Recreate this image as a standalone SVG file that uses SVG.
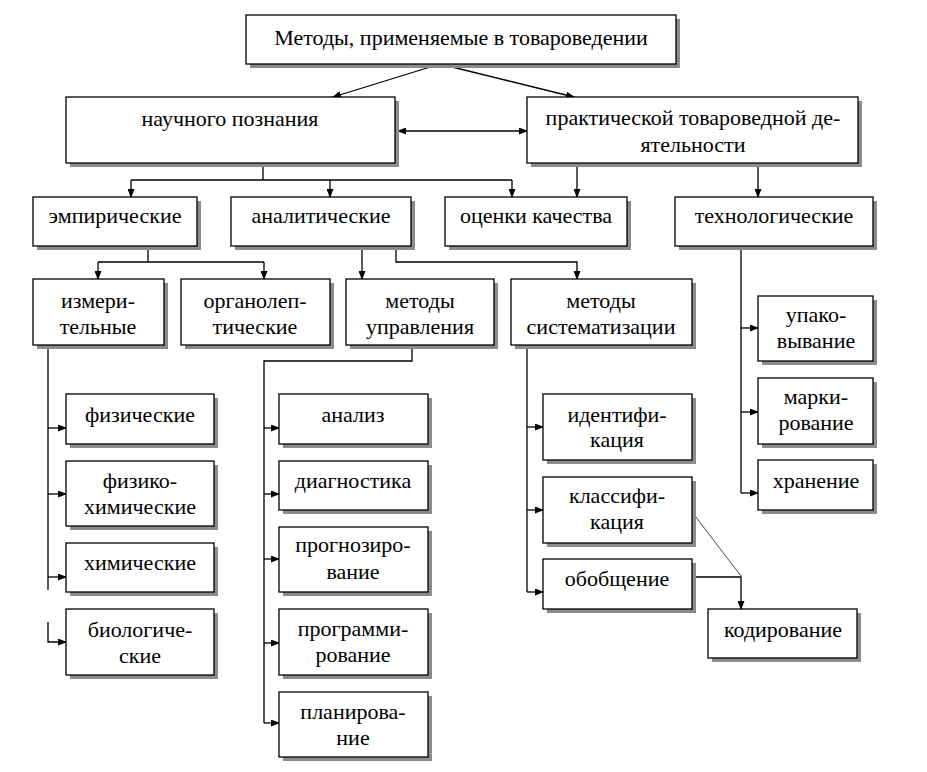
<svg xmlns="http://www.w3.org/2000/svg" width="927" height="772" viewBox="0 0 927 772">
<style>
.box{fill:#fff;stroke:#000;stroke-width:1.3}
.sh{fill:#8c8c8c}
.ln{fill:none;stroke:#000;stroke-width:1.3}
.thin{fill:none;stroke:#333;stroke-width:0.9}
</style>
<defs>
<marker id="ah" markerWidth="9" markerHeight="7" refX="8" refY="3.5" orient="auto" markerUnits="userSpaceOnUse">
<path d="M0,0 L9,3.5 L0,7 Z" fill="#000"/>
</marker>
<marker id="ahs" markerWidth="9" markerHeight="7" refX="1" refY="3.5" orient="auto" markerUnits="userSpaceOnUse">
<path d="M9,0 L0,3.5 L9,7 Z" fill="#000"/>
</marker>
</defs>
<rect width="927" height="772" fill="#fff"/>

<g id="connectors">
<path class="ln" d="M440,64 L333,97" marker-end="url(#ah)"/>
<path class="ln" d="M440,64 L574,97" marker-end="url(#ah)"/>
<path class="ln" d="M398,131 L527,131" marker-start="url(#ahs)" marker-end="url(#ah)"/>
<path class="ln" d="M263,163 V180 M131,180 H512"/>
<path class="ln" d="M131,180 V197" marker-end="url(#ah)"/>
<path class="ln" d="M330,180 V197" marker-end="url(#ah)"/>
<path class="ln" d="M512,180 V197" marker-end="url(#ah)"/>
<path class="ln" d="M577,163 V197" marker-end="url(#ah)"/>
<path class="ln" d="M758,163 V197" marker-end="url(#ah)"/>
<path class="ln" d="M148,246 V262 M98,262 H264"/>
<path class="ln" d="M98,262 V279" marker-end="url(#ah)"/>
<path class="ln" d="M264,262 V279" marker-end="url(#ah)"/>
<path class="ln" d="M362,246 V279" marker-end="url(#ah)"/>
<path class="ln" d="M396,246 V262 H577 V279" marker-end="url(#ah)"/>
<path class="ln" d="M48,345 V590"/>
<path class="ln" d="M48,428 H66" marker-end="url(#ah)"/>
<path class="ln" d="M48,494 H66" marker-end="url(#ah)"/>
<path class="ln" d="M48,577 H66" marker-end="url(#ah)"/>
<path class="ln" d="M48,622 V642 H66" marker-end="url(#ah)"/>
<path class="ln" d="M412,345 V361 H264 V723"/>
<path class="ln" d="M264,428 H279" marker-end="url(#ah)"/>
<path class="ln" d="M264,494 H279" marker-end="url(#ah)"/>
<path class="ln" d="M264,559 H279" marker-end="url(#ah)"/>
<path class="ln" d="M264,643 H279" marker-end="url(#ah)"/>
<path class="ln" d="M264,723 H279" marker-end="url(#ah)"/>
<path class="ln" d="M527,345 V592"/>
<path class="ln" d="M527,427 H543" marker-end="url(#ah)"/>
<path class="ln" d="M527,510 H543" marker-end="url(#ah)"/>
<path class="ln" d="M527,592 H543" marker-end="url(#ah)"/>
<path class="thin" d="M692,512 L741,576"/>
<path class="ln" d="M692,577 H741 V609" marker-end="url(#ah)"/>
<path class="ln" d="M741,246 V493"/>
<path class="ln" d="M741,328 H758" marker-end="url(#ah)"/>
<path class="ln" d="M741,412 H758" marker-end="url(#ah)"/>
<path class="ln" d="M741,493 H758" marker-end="url(#ah)"/>
</g>

<g font-family="Liberation Serif, Times New Roman, serif" font-size="22" text-anchor="middle" fill="#000">
<g id="n-title"><rect class="sh" x="250" y="19" width="430" height="49"/><rect class="box" x="246" y="15" width="430" height="49"/><text x="461" y="45">Методы, применяемые в товароведении</text></g>
<g id="n-nauch"><rect class="sh" x="70" y="101" width="329" height="66"/><rect class="box" x="66" y="97" width="329" height="66"/><text x="230" y="126">научного познания</text></g>
<g id="n-prakt"><rect class="sh" x="531" y="101" width="331" height="66"/><rect class="box" x="527" y="97" width="331" height="66"/><text x="693" y="125">практической товароведной де-</text><text x="693" y="152">ятельности</text></g>
<g id="n-empir"><rect class="sh" x="37" y="201" width="164" height="49"/><rect class="box" x="33" y="197" width="164" height="49"/><text x="115" y="223">эмпирические</text></g>
<g id="n-analit"><rect class="sh" x="235" y="201" width="180" height="49"/><rect class="box" x="231" y="197" width="180" height="49"/><text x="321" y="223">аналитические</text></g>
<g id="n-ocenki"><rect class="sh" x="449" y="201" width="182" height="49"/><rect class="box" x="445" y="197" width="182" height="49"/><text x="536" y="223">оценки качества</text></g>
<g id="n-tech"><rect class="sh" x="679" y="201" width="198" height="49"/><rect class="box" x="675" y="197" width="198" height="49"/><text x="774" y="223">технологические</text></g>
<g id="n-izmer"><rect class="sh" x="37" y="283" width="131" height="66"/><rect class="box" x="33" y="279" width="131" height="66"/><text x="98" y="308">измери-</text><text x="98" y="334">тельные</text></g>
<g id="n-organ"><rect class="sh" x="185" y="283" width="149" height="66"/><rect class="box" x="181" y="279" width="149" height="66"/><text x="255" y="308">органолеп-</text><text x="255" y="334">тические</text></g>
<g id="n-upr"><rect class="sh" x="350" y="283" width="148" height="66"/><rect class="box" x="346" y="279" width="148" height="66"/><text x="420" y="308">методы</text><text x="420" y="334">управления</text></g>
<g id="n-sist"><rect class="sh" x="515" y="283" width="181" height="66"/><rect class="box" x="511" y="279" width="181" height="66"/><text x="601" y="308">методы</text><text x="601" y="334">систематизации</text></g>
<g id="n-fiz"><rect class="sh" x="70" y="398" width="148" height="50"/><rect class="box" x="66" y="394" width="148" height="50"/><text x="140" y="422">физические</text></g>
<g id="n-fizkhim"><rect class="sh" x="70" y="465" width="148" height="65"/><rect class="box" x="66" y="461" width="148" height="65"/><text x="140" y="488">физико-</text><text x="140" y="514">химические</text></g>
<g id="n-khim"><rect class="sh" x="70" y="547" width="148" height="49"/><rect class="box" x="66" y="543" width="148" height="49"/><text x="140" y="570">химические</text></g>
<g id="n-bio"><rect class="sh" x="70" y="613" width="148" height="66"/><rect class="box" x="66" y="609" width="148" height="66"/><text x="140" y="637">биологиче-</text><text x="140" y="663">ские</text></g>
<g id="n-analiz"><rect class="sh" x="283" y="398" width="149" height="50"/><rect class="box" x="279" y="394" width="149" height="50"/><text x="353" y="422">анализ</text></g>
<g id="n-diag"><rect class="sh" x="283" y="465" width="149" height="49"/><rect class="box" x="279" y="461" width="149" height="49"/><text x="353" y="488">диагностика</text></g>
<g id="n-prognoz"><rect class="sh" x="283" y="531" width="149" height="65"/><rect class="box" x="279" y="527" width="149" height="65"/><text x="353" y="552">прогнозиро-</text><text x="353" y="579">вание</text></g>
<g id="n-program"><rect class="sh" x="283" y="613" width="149" height="66"/><rect class="box" x="279" y="609" width="149" height="66"/><text x="353" y="636">программи-</text><text x="353" y="662">рование</text></g>
<g id="n-plan"><rect class="sh" x="283" y="696" width="149" height="65"/><rect class="box" x="279" y="692" width="149" height="65"/><text x="353" y="719">планирова-</text><text x="353" y="745">ние</text></g>
<g id="n-ident"><rect class="sh" x="547" y="398" width="149" height="66"/><rect class="box" x="543" y="394" width="149" height="66"/><text x="617" y="422">идентифи-</text><text x="617" y="447">кация</text></g>
<g id="n-klass"><rect class="sh" x="547" y="481" width="149" height="66"/><rect class="box" x="543" y="477" width="149" height="66"/><text x="617" y="503">классифи-</text><text x="617" y="529">кация</text></g>
<g id="n-obob"><rect class="sh" x="547" y="563" width="149" height="50"/><rect class="box" x="543" y="559" width="149" height="50"/><text x="617" y="586">обобщение</text></g>
<g id="n-kod"><rect class="sh" x="712" y="613" width="149" height="49"/><rect class="box" x="708" y="609" width="149" height="49"/><text x="783" y="637">кодирование</text></g>
<g id="n-upak"><rect class="sh" x="762" y="300" width="115" height="65"/><rect class="box" x="758" y="296" width="115" height="65"/><text x="816" y="322">упако-</text><text x="816" y="348">вывание</text></g>
<g id="n-mark"><rect class="sh" x="762" y="382" width="115" height="66"/><rect class="box" x="758" y="378" width="115" height="66"/><text x="816" y="404">марки-</text><text x="816" y="430">рование</text></g>
<g id="n-hran"><rect class="sh" x="762" y="464" width="115" height="50"/><rect class="box" x="758" y="460" width="115" height="50"/><text x="816" y="488">хранение</text></g>
</g>
</svg>
